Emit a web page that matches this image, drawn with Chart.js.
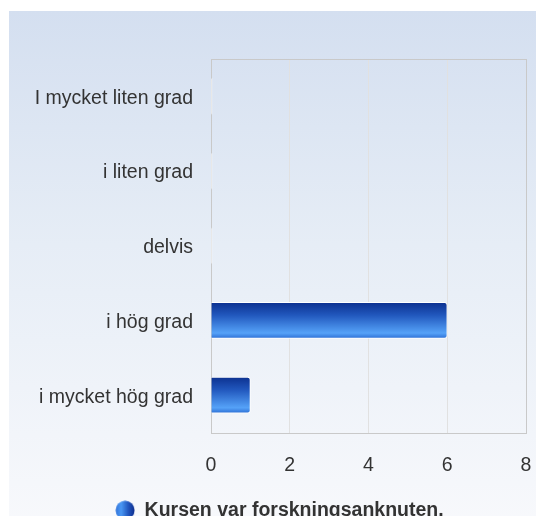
<!DOCTYPE html>
<html>
<head>
<meta charset="utf-8">
<script src="https://cdn.jsdelivr.net/npm/chart.js@4"></script>
<style>
  html, body { margin: 0; padding: 0; background: #fff; overflow: hidden; }
  #wrap { position: relative; width: 536px; height: 530px; }
  #panel {
    position: absolute; left: 9px; top: 11px; right: 0; bottom: 0;
    background: linear-gradient(to bottom, #d4dff0 0%, #e6edf6 45%, #f8f9fc 100%);
  }
  #chart { position: absolute; left: 0; top: 0; }
</style>
</head>
<body>
<div id="wrap">
  <div id="panel"></div>
  <canvas id="chart" width="536" height="530"></canvas>
</div>
<script>
const categories = ['I mycket liten grad', 'i liten grad', 'delvis', 'i hög grad', 'i mycket hög grad'];
const counts = [0, 0, 0, 6, 1];
const seriesName = 'Kursen var forskningsanknuten.';
const xTicks = [0, 2, 4, 6, 8];

const FONT = '"Liberation Sans", Arial, sans-serif';
const SIZE = 19.5;

// legend icon: shaded blue ball
function makeBall() {
  const c = document.createElement('canvas');
  c.width = 20; c.height = 20;
  const g = c.getContext('2d');
  const grad = g.createLinearGradient(0, 0, 20, 0);
  grad.addColorStop(0, '#2f6fd6');
  grad.addColorStop(0.3, '#4a98f4');
  grad.addColorStop(0.65, '#2258c0');
  grad.addColorStop(1, '#0c2a8a');
  g.fillStyle = grad;
  g.beginPath();
  g.arc(10, 10, 9.5, 0, Math.PI * 2);
  g.fill();
  return c;
}

function barFill(context) {
  const chart = context.chart;
  const y = chart.scales.y;
  if (!counts[context.dataIndex]) return '#ffffff';
  if (!y || !chart.chartArea) return '#2e6fd8';
  const center = y.getPixelForValue(context.dataIndex);
  const top = center - 18, bottom = center + 18;
  const grad = chart.ctx.createLinearGradient(0, top, 0, bottom);
  grad.addColorStop(0, '#0c3190');
  grad.addColorStop(0.35, '#2157bd');
  grad.addColorStop(0.85, '#55a2f8');
  grad.addColorStop(1, '#2c6ed4');
  return grad;
}

const plotFrame = {
  id: 'plotFrame',
  beforeDatasetsDraw(chart) {
    const a = chart.chartArea, ctx = chart.ctx;
    ctx.save();
    ctx.strokeStyle = '#c9c9c9';
    ctx.lineWidth = 1;
    ctx.strokeRect(Math.round(a.left) + 0.5, Math.round(a.top) + 0.5,
      Math.round(a.right - a.left), Math.round(a.bottom - a.top));
    ctx.restore();
  }
};

new Chart(document.getElementById('chart'), {
  type: 'bar',
  data: {
    labels: categories,
    datasets: [{
      label: seriesName,
      data: counts,
      backgroundColor: barFill,
      borderColor: '#ffffff',
      borderWidth: 1,
      borderRadius: { topRight: 3, bottomRight: 3 },
      borderSkipped: 'start',
      barThickness: 36,
      minBarLength: 1,
      pointStyle: makeBall()
    }]
  },
  plugins: [plotFrame],
  options: {
    indexAxis: 'y',
    responsive: false,
    animation: false,
    layout: { padding: { top: 59, right: 10, left: 33, bottom: 0 } },
    scales: {
      x: {
        min: 0, max: 8,
        afterBuildTicks: (scale) => { scale.ticks = xTicks.map(v => ({ value: v })); },
        grid: { color: '#e1e1e1', drawTicks: false },
        border: { display: false },
        ticks: { color: '#333', padding: 21, font: { family: FONT, size: SIZE } },
        afterFit: (scale) => {
          scale.height = 58;
          scale.paddingLeft = 0;
          scale.paddingRight = 0;
        }
      },
      y: {
        grid: { display: false, drawTicks: false },
        border: { display: false },
        ticks: { color: '#333', padding: 18, labelOffset: 2, font: { family: FONT, size: SIZE } },
        afterFit: (scale) => { scale.width = 178; }
      }
    },
    plugins: {
      legend: {
        position: 'bottom',
        labels: {
          usePointStyle: true,
          color: '#333',
          padding: 10,
          font: { family: FONT, size: SIZE, weight: 'bold' }
        }
      },
      tooltip: { enabled: false }
    }
  }
});
</script>
</body>
</html>
